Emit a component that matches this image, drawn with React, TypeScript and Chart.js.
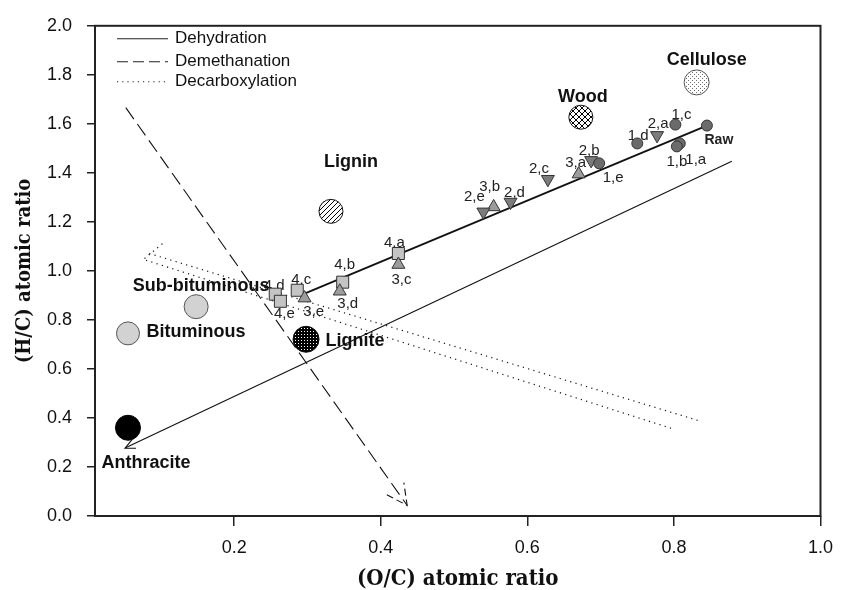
import { useEffect, useRef } from 'react';
import { Chart, registerables } from 'chart.js';

Chart.register(...registerables);

// ---- axis ticks ----
const X_TICKS = [0.2, 0.4, 0.6, 0.8, 1.0];
const Y_TICKS = [0, 0.2, 0.4, 0.6, 0.8, 1.0, 1.2, 1.4, 1.6, 1.8, 2.0];

// ---- series 1 (circles) ----
const S1_LABELS = ['Raw', '1,a', '1,b', '1,c', '1,d', '1,e'];
const S1_X = [0.845, 0.808, 0.804, 0.802, 0.750, 0.698];
const S1_Y = [1.593, 1.520, 1.508, 1.597, 1.520, 1.439];

// ---- series 2 (down triangles) ----
const S2_LABELS = ['2,a', '2,b', '2,c', '2,d', '2,e'];
const S2_X = [0.777, 0.687, 0.628, 0.577, 0.540];
const S2_Y = [1.553, 1.451, 1.374, 1.281, 1.241];

// ---- series 3 (up triangles) ----
const S3_LABELS = ['3,a', '3,b', '3,c', '3,d', '3,e'];
const S3_X = [0.670, 0.554, 0.424, 0.344, 0.296];
const S3_Y = [1.395, 1.261, 1.026, 0.917, 0.889];

// ---- series 4 (squares) ----
const S4_LABELS = ['4,a', '4,b', '4,c', '4,d', '4,e'];
const S4_X = [0.424, 0.348, 0.286, 0.256, 0.263];
const S4_Y = [1.071, 0.954, 0.921, 0.905, 0.876];

// ---- reference materials ----
const REF_LABELS = ['Cellulose', 'Wood', 'Lignin', 'Sub-bituminous', 'Bituminous', 'Lignite', 'Anthracite'];
const REF_X = [0.831, 0.673, 0.332, 0.148, 0.055, 0.298, 0.055];
const REF_Y = [1.769, 1.627, 1.243, 0.854, 0.745, 0.721, 0.360];

// ---- process lines ----
const DEHYD_A_X = [0.291, 0.845];
const DEHYD_A_Y = [0.901, 1.593];
const DEHYD_B_X = [0.879, 0.051];
const DEHYD_B_Y = [1.447, 0.277];
const DEMETH_X = [0.052, 0.436];
const DEMETH_Y = [1.666, 0.043];
const DECARB_U_X = [0.084, 0.836];
const DECARB_U_Y = [1.071, 0.387];
const DECARB_L_X = [0.102, 0.076, 0.796];
const DECARB_L_Y = [1.111, 1.047, 0.358];

const LEGEND_NAMES = ['Dehydration', 'Demethanation', 'Decarboxylation'];

// label pixel offsets (layout only)
const S1_OFF = [[12, 15], [16, 16], [0, 15], [6, -10], [1, -8], [14, 15]];
const S2_OFF = [[1, -12], [-2, -10], [-9, -10], [4, -9], [-9, -15]];
const S3_OFF = [[-3, -11], [-4, -20], [3, 15], [8, 13], [9, 14]];
const S4_OFF = [[-4, -11], [2, -17], [4, -10], [-1, -8], [4, 13]];
const REF_OFF = [[10, -22], [2, -20], [20, -49], [5, -21], [68, -1], [49, 2], [18, 35]];

const pts = (xs: number[], ys: number[]) => xs.map((v, i) => ({ x: v, y: ys[i] }));

function makePattern(size: number, draw: (c: CanvasRenderingContext2D) => void) {
  const cv = document.createElement('canvas');
  cv.width = size;
  cv.height = size;
  const c = cv.getContext('2d')!;
  draw(c);
  const p = c.createPattern(cv, 'repeat');
  return p as CanvasPattern;
}

function arrowHead(ctx: CanvasRenderingContext2D, x0: number, y0: number, x1: number, y1: number, len: number, ang: number) {
  const a = Math.atan2(y1 - y0, x1 - x0);
  ctx.beginPath();
  ctx.moveTo(x1 - len * Math.cos(a - ang), y1 - len * Math.sin(a - ang));
  ctx.lineTo(x1, y1);
  ctx.lineTo(x1 - len * Math.cos(a + ang), y1 - len * Math.sin(a + ang));
  ctx.stroke();
}

const SANS = '"Liberation Sans", Arial, sans-serif';
const SERIF = '"DejaVu Serif Condensed", "DejaVu Serif", serif';

export default function App() {
  const ref = useRef<HTMLCanvasElement>(null);

  useEffect(() => {
    const canvas = ref.current!;

    const cellulose = makePattern(4, (c) => {
      c.fillStyle = '#ffffff';
      c.fillRect(0, 0, 4, 4);
      c.fillStyle = '#6a6a6a';
      c.fillRect(0, 0, 1, 1);
      c.fillRect(2, 2, 1, 1);
    });
    const wood = makePattern(6, (c) => {
      c.fillStyle = '#ffffff';
      c.fillRect(0, 0, 6, 6);
      c.strokeStyle = '#000';
      c.lineWidth = 1;
      c.beginPath();
      c.moveTo(-1, -1); c.lineTo(7, 7);
      c.moveTo(7, -1); c.lineTo(-1, 7);
      c.stroke();
    });
    const lignin = makePattern(5, (c) => {
      c.fillStyle = '#ffffff';
      c.fillRect(0, 0, 5, 5);
      c.strokeStyle = '#000';
      c.lineWidth = 1;
      c.beginPath();
      c.moveTo(-1, 6); c.lineTo(6, -1);
      c.moveTo(-1, 1); c.lineTo(1, -1);
      c.moveTo(4, 6); c.lineTo(6, 4);
      c.stroke();
    });
    const lignite = makePattern(3, (c) => {
      c.fillStyle = '#000';
      c.fillRect(0, 0, 3, 3);
      c.fillStyle = '#ffffff';
      c.fillRect(1, 1, 1, 1);
    });

    const refColors = [cellulose, wood, lignin, '#d2d2d2', '#d2d2d2', lignite, '#000000'];
    const refBorders = ['#555', '#111', '#111', '#555', '#555', '#111', '#000'];
    const refRadius = [12.5, 12, 12, 12, 11.5, 13, 12.5];

    const lineDs = (xs: number[], ys: number[], dash: number[], width: number) => ({
      data: pts(xs, ys),
      showLine: true,
      borderColor: '#111',
      borderWidth: width,
      borderDash: dash,
      pointRadius: 0,
      pointHoverRadius: 0,
      fill: false,
      tension: 0,
    });

    const overlay = {
      id: 'overlay',
      beforeDatasetsDraw(chart: any) {
        const { ctx, scales } = chart;
        const xs = scales.x;
        const ys = scales.y;
        ctx.save();
        ctx.textAlign = 'center';
        ctx.textBaseline = 'middle';
        const drawSet = (names: string[], X: number[], Y: number[], off: number[][], font: string, color: string) => {
          names.forEach((n, i) => {
            ctx.font = n === 'Raw' ? `bold 14px ${SANS}` : font;
            ctx.fillStyle = color;
            ctx.fillText(n, xs.getPixelForValue(X[i]) + off[i][0], ys.getPixelForValue(Y[i]) + off[i][1]);
          });
        };
        const small = `15px ${SANS}`;
        drawSet(S1_LABELS, S1_X, S1_Y, S1_OFF, small, '#222');
        drawSet(S2_LABELS, S2_X, S2_Y, S2_OFF, small, '#222');
        drawSet(S3_LABELS, S3_X, S3_Y, S3_OFF, small, '#222');
        drawSet(S4_LABELS, S4_X, S4_Y, S4_OFF, small, '#222');
        drawSet(REF_LABELS, REF_X, REF_Y, REF_OFF, `bold 18px ${SANS}`, '#111');
        ctx.restore();
      },
      afterDatasetsDraw(chart: any) {
        const { ctx, chartArea: a, scales } = chart;
        const xs = scales.x;
        const ys = scales.y;
        const px = (v: number) => xs.getPixelForValue(v);
        const py = (v: number) => ys.getPixelForValue(v);
        ctx.save();
        ctx.strokeStyle = '#111';
        // dehydration arrow at anthracite
        ctx.lineWidth = 1.1;
        ctx.setLineDash([]);
        arrowHead(ctx, px(DEHYD_B_X[0]), py(DEHYD_B_Y[0]), px(DEHYD_B_X[1]), py(DEHYD_B_Y[1]), 11, 0.45);
        // demethanation arrow
        ctx.setLineDash([7, 4]);
        arrowHead(ctx, px(DEMETH_X[0]), py(DEMETH_Y[0]), px(DEMETH_X[1]), py(DEMETH_Y[1]), 23, 0.47);
        ctx.setLineDash([]);
        // box
        ctx.strokeStyle = '#222';
        ctx.lineWidth = 2;
        ctx.strokeRect(a.left, a.top, a.right - a.left, a.bottom - a.top);
        // legend
        const lx0 = a.left + 22;
        const lx1 = a.left + 73;
        const tx = a.left + 80;
        const lys = [a.top + 13, a.top + 36, a.top + 56];
        const dashes = [[], [11, 5], [1.2, 4]];
        ctx.font = `17px ${SANS}`;
        ctx.fillStyle = '#111';
        ctx.textAlign = 'left';
        ctx.textBaseline = 'middle';
        LEGEND_NAMES.forEach((n, i) => {
          ctx.strokeStyle = '#222';
          ctx.lineWidth = 1.1;
          ctx.setLineDash(dashes[i]);
          ctx.beginPath();
          ctx.moveTo(lx0, lys[i]);
          ctx.lineTo(lx1, lys[i]);
          ctx.stroke();
          ctx.fillText(n, tx, lys[i]);
        });
        ctx.restore();
      },
    };

    const chart = new Chart(canvas, {
      type: 'scatter',
      data: {
        datasets: [
          {
            data: pts(S1_X, S1_Y),
            pointStyle: 'circle',
            pointRadius: 5.5,
            pointHoverRadius: 5.5,
            pointBackgroundColor: '#6b6b6b',
            pointBorderColor: '#333',
            pointBorderWidth: 1,
          },
          {
            data: pts(S2_X, S2_Y),
            pointStyle: 'triangle',
            pointRotation: 180,
            pointRadius: 7.5,
            pointHoverRadius: 7.5,
            pointBackgroundColor: '#7c7c7c',
            pointBorderColor: '#333',
            pointBorderWidth: 1,
          },
          {
            data: pts(S3_X, S3_Y),
            pointStyle: 'triangle',
            pointRadius: 7.5,
            pointHoverRadius: 7.5,
            pointBackgroundColor: '#9c9c9c',
            pointBorderColor: '#333',
            pointBorderWidth: 1,
          },
          {
            data: pts(S4_X, S4_Y),
            pointStyle: 'rect',
            pointRadius: 8.5,
            pointHoverRadius: 8.5,
            pointBackgroundColor: '#c4c4c4',
            pointBorderColor: '#333',
            pointBorderWidth: 1,
          },
          {
            data: pts(REF_X, REF_Y),
            pointStyle: 'circle',
            pointRadius: refRadius,
            pointHoverRadius: refRadius,
            pointBackgroundColor: refColors,
            pointBorderColor: refBorders,
            pointBorderWidth: 1,
          },
          lineDs(DEHYD_A_X, DEHYD_A_Y, [], 1.8),
          lineDs(DEHYD_B_X, DEHYD_B_Y, [], 1.1),
          lineDs(DEMETH_X, DEMETH_Y, [14, 6], 1.1),
          lineDs(DECARB_U_X, DECARB_U_Y, [1.2, 4.3], 1.2),
          lineDs(DECARB_L_X, DECARB_L_Y, [1.2, 4.3], 1.2),
        ] as any,
      },
      options: {
        animation: false,
        responsive: true,
        maintainAspectRatio: false,
        events: [],
        layout: { padding: { top: 21, right: 17, left: 0, bottom: 0 } },
        plugins: { legend: { display: false }, tooltip: { enabled: false } },
        scales: {
          x: {
            type: 'linear',
            min: 0.01,
            max: 1.0,
            afterBuildTicks: (s: any) => {
              s.ticks = X_TICKS.map((v) => ({ value: v }));
            },
            afterFit: (s: any) => {
              s.height = 74;
            },
            ticks: {
              callback: (v: any) => Number(v).toFixed(1),
              font: { family: SANS, size: 18 },
              color: '#111',
              padding: 11,
              maxRotation: 0,
              autoSkip: false,
            },
            grid: { drawOnChartArea: false, drawTicks: true, tickLength: 10, color: '#222', lineWidth: 1.5 },
            border: { display: false },
            title: {
              display: true,
              text: '(O/C) atomic ratio',
              font: { family: SERIF, size: 22, weight: 'bold', lineHeight: 1 },
              color: '#111',
              padding: { top: 0, bottom: 0 },
            },
          },
          y: {
            type: 'linear',
            min: 0,
            max: 2.0,
            afterBuildTicks: (s: any) => {
              s.ticks = Y_TICKS.map((v) => ({ value: v }));
            },
            afterFit: (s: any) => {
              s.width = 95;
            },
            ticks: {
              callback: (v: any) => Number(v).toFixed(1),
              font: { family: SANS, size: 18 },
              color: '#111',
              padding: 15,
              autoSkip: false,
            },
            grid: { drawOnChartArea: false, drawTicks: true, tickLength: 8, color: '#222', lineWidth: 1.5 },
            border: { display: false },
            title: {
              display: true,
              text: '(H/C) atomic ratio',
              font: { family: SERIF, size: 20, weight: 'bold', lineHeight: 1.2 },
              color: '#111',
              padding: { top: 13, bottom: 0 },
            },
          },
        },
      } as any,
      plugins: [overlay],
    });

    return () => chart.destroy();
  }, []);

  return (
    <div style={{ position: 'absolute', left: 0, top: 0, width: 844, height: 590 }}>
      <canvas ref={ref} />
    </div>
  );
}
